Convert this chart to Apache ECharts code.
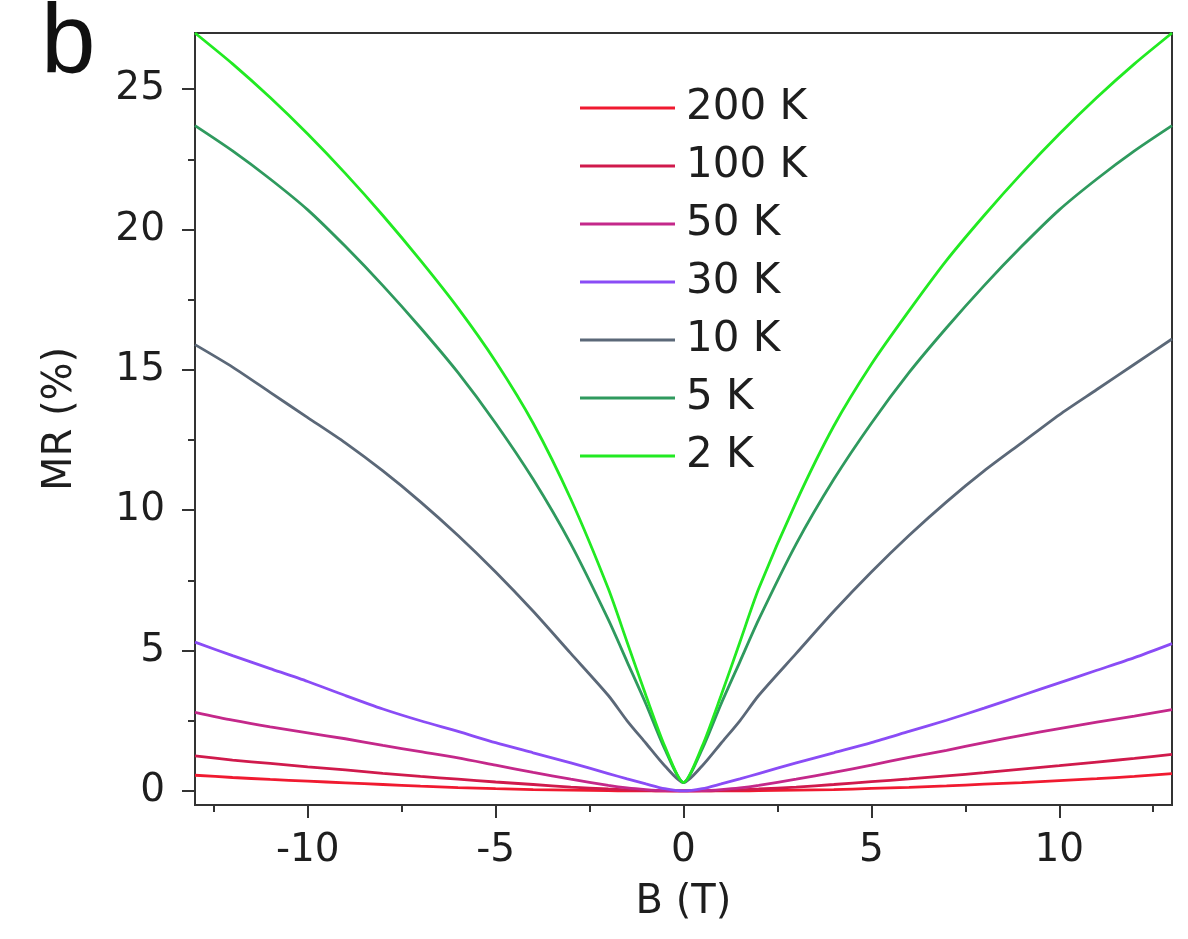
<!DOCTYPE html>
<html>
<head>
<meta charset="utf-8">
<title>MR vs B</title>
<script src="https://cdn.jsdelivr.net/npm/echarts@6/dist/echarts.min.js"></script>
<style>
  html, body { margin: 0; padding: 0; background: #ffffff; }
  #chart { width: 1188px; height: 939px; }
</style>
</head>
<body>
<div id="chart"></div>
<script>
// Magnetic field sweep (T)
const fieldT = [-13, -12, -11, -10, -9, -8, -7, -6, -5, -4, -3, -2, -1.5, -1, -0.5, 0,
                0.5, 1, 1.5, 2, 3, 4, 5, 6, 7, 8, 9, 10, 11, 12, 13];

// Magnetoresistance (%) at each temperature
const mr200K = [0.56, 0.48, 0.41, 0.35, 0.29, 0.23, 0.17, 0.12, 0.08, 0.05, 0.03, 0.01, 0.005, 0.0, 0.0, 0.0,
                0.0, 0.0, 0.005, 0.01, 0.03, 0.05, 0.09, 0.13, 0.18, 0.24, 0.30, 0.37, 0.44, 0.52, 0.62];
const mr100K = [1.25, 1.10, 0.98, 0.86, 0.75, 0.63, 0.52, 0.42, 0.32, 0.23, 0.14, 0.07, 0.04, 0.02, 0.0, 0.0,
                0.0, 0.02, 0.04, 0.07, 0.14, 0.23, 0.33, 0.43, 0.54, 0.65, 0.78, 0.90, 1.03, 1.16, 1.30];
const mr50K  = [2.80, 2.52, 2.28, 2.07, 1.86, 1.62, 1.40, 1.18, 0.92, 0.66, 0.42, 0.20, 0.11, 0.05, 0.01, 0.0,
                0.01, 0.05, 0.11, 0.20, 0.42, 0.66, 0.92, 1.20, 1.45, 1.72, 1.98, 2.22, 2.45, 2.67, 2.90];
const mr30K  = [5.30, 4.82, 4.36, 3.90, 3.40, 2.92, 2.50, 2.12, 1.72, 1.36, 1.00, 0.62, 0.43, 0.25, 0.08, 0.0,
                0.08, 0.25, 0.43, 0.62, 1.00, 1.36, 1.72, 2.12, 2.52, 2.95, 3.40, 3.85, 4.30, 4.75, 5.25];
const mr10K  = [15.9, 15.1, 14.2, 13.3, 12.4, 11.4, 10.3, 9.1, 7.8, 6.4, 4.9, 3.4, 2.5, 1.7, 0.9, 0.3,
                0.9, 1.7, 2.5, 3.4, 4.9, 6.4, 7.8, 9.1, 10.3, 11.4, 12.4, 13.4, 14.3, 15.2, 16.1];
const mr5K   = [23.7, 22.8, 21.8, 20.7, 19.4, 18.0, 16.5, 14.9, 13.1, 11.1, 8.8, 6.1, 4.6, 3.1, 1.5, 0.3,
                1.5, 3.1, 4.6, 6.1, 8.8, 11.1, 13.1, 14.9, 16.5, 18.0, 19.4, 20.7, 21.8, 22.8, 23.7];
const mr2K   = [27.0, 25.9, 24.7, 23.4, 22.0, 20.5, 18.9, 17.2, 15.3, 13.1, 10.4, 7.2, 5.3, 3.4, 1.6, 0.3,
                1.6, 3.4, 5.3, 7.2, 10.3, 13.0, 15.2, 17.1, 18.9, 20.5, 22.0, 23.4, 24.7, 25.9, 27.0];

// Legend order / names and tick values
const seriesNames = ['200 K', '100 K', '50 K', '30 K', '10 K', '5 K', '2 K'];
const xMajorTicks = [-10, -5, 0, 5, 10];
const xMinorTicks = [-12.5, -7.5, -2.5, 2.5, 7.5, 12.5];
const yMajorTicks = [0, 5, 10, 15, 20, 25];
const yMinorTicks = [2.5, 7.5, 12.5, 17.5, 22.5];

const seriesValues = [mr200K, mr100K, mr50K, mr30K, mr10K, mr5K, mr2K];
const seriesColors = ['#f01a30', '#d01a4c', '#c4288a', '#8a4cf6', '#5b6878', '#2f9a5e', '#22ea22'];

const FONT = 'DejaVu Sans';
const AXIS_COLOR = '#333333';
const TEXT_COLOR = '#1e1e1e';

const chart = echarts.init(document.getElementById('chart'), null, { renderer: 'canvas' });

const series = seriesNames.map((name, i) => ({
  name: name,
  type: 'line',
  xAxisIndex: 0,
  yAxisIndex: 0,
  showSymbol: false,
  symbol: 'none',
  smooth: 0.25,
  lineStyle: { color: seriesColors[i], width: 2.8 },
  itemStyle: { color: seriesColors[i] },
  data: fieldT.map((b, k) => [b, seriesValues[i][k]])
}));

const option = {
  backgroundColor: '#ffffff',
  animation: false,
  textStyle: { fontFamily: FONT },
  grid: {
    left: 195, right: 16, top: 33, bottom: 134,
    show: true, borderColor: AXIS_COLOR, borderWidth: 2, backgroundColor: 'transparent'
  },
  legend: {
    orient: 'vertical',
    left: 575,
    top: 78,
    itemWidth: 95,
    itemHeight: 3,
    itemGap: 8,
    icon: 'rect',
    data: seriesNames,
    textStyle: {
      fontFamily: FONT, fontSize: 42, color: TEXT_COLOR,
      lineHeight: 50, padding: [0, 0, 0, 6]
    }
  },
  xAxis: [
    {
      type: 'value', min: -13, max: 13, position: 'bottom',
      name: 'B (T)', nameLocation: 'middle', nameGap: 78,
      nameTextStyle: { fontFamily: FONT, fontSize: 40, color: TEXT_COLOR },
      axisLine: { show: true, onZero: false, lineStyle: { color: AXIS_COLOR, width: 2 } },
      axisTick: { show: true, inside: false, length: 13, customValues: xMajorTicks,
                  lineStyle: { color: AXIS_COLOR, width: 2 } },
      axisLabel: { show: true, customValues: xMajorTicks, margin: 26,
                   fontFamily: FONT, fontSize: 39, color: TEXT_COLOR },
      splitLine: { show: false }
    },
    {
      type: 'value', min: -13, max: 13, position: 'bottom',
      axisLine: { show: false, onZero: false },
      axisTick: { show: true, inside: false, length: 7, customValues: xMinorTicks,
                  lineStyle: { color: AXIS_COLOR, width: 2 } },
      axisLabel: { show: false },
      splitLine: { show: false }
    }
  ],
  yAxis: [
    {
      type: 'value', min: -0.5, max: 27, position: 'left',
      name: 'MR (%)', nameLocation: 'middle', nameGap: 114, nameRotate: 90,
      nameTextStyle: { fontFamily: FONT, fontSize: 40, color: TEXT_COLOR },
      axisLine: { show: true, onZero: false, lineStyle: { color: AXIS_COLOR, width: 2 } },
      axisTick: { show: true, inside: false, length: 13, customValues: yMajorTicks,
                  lineStyle: { color: AXIS_COLOR, width: 2 } },
      axisLabel: { show: true, customValues: yMajorTicks, margin: 30,
                   fontFamily: FONT, fontSize: 39, color: TEXT_COLOR },
      splitLine: { show: false }
    },
    {
      type: 'value', min: -0.5, max: 27, position: 'left',
      axisLine: { show: false, onZero: false },
      axisTick: { show: true, inside: false, length: 7, customValues: yMinorTicks,
                  lineStyle: { color: AXIS_COLOR, width: 2 } },
      axisLabel: { show: false },
      splitLine: { show: false }
    }
  ],
  graphic: [
    {
      type: 'text', left: 41, top: -4,
      style: { text: 'b', fontFamily: 'Liberation Sans', fontSize: 98, fill: '#111111' }
    }
  ],
  series: series
};

chart.setOption(option);
</script>
</body>
</html>
